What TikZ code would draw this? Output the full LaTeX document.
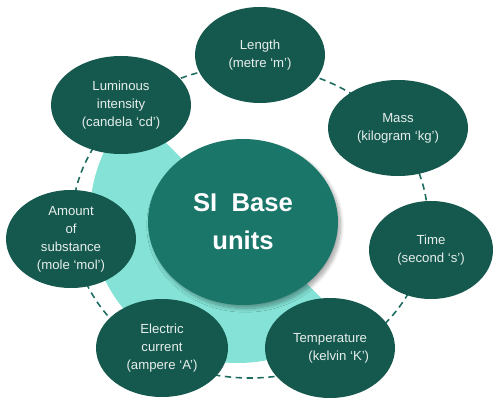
\documentclass[tikz,border=0pt]{standalone}
\usepackage{fontspec}
\setmainfont{Liberation Sans}
\usepackage{tikz}
\usetikzlibrary{shapes.geometric,shadows.blur}

\definecolor{unitdark}{RGB}{21,89,78}
\definecolor{basemid}{RGB}{27,118,106}
\definecolor{halolight}{RGB}{132,227,214}
\definecolor{ringline}{RGB}{30,108,96}
\definecolor{unittext}{RGB}{230,238,236}

\begin{document}
\begin{tikzpicture}
    % Estilos de las elipses
    \tikzset{
        unitblob/.style={
            ellipse, fill=unitdark, inner sep=0pt, align=center, text=unittext,
            font=\fontsize{7.5}{10.2}\selectfont
        },
        baseblob/.style={
            ellipse, fill=basemid, inner sep=0pt, align=center, text=white,
            minimum width=3.8cm, minimum height=3.32cm,
            font=\fontsize{14.6}{21.8}\selectfont\bfseries,
            blur shadow={shadow xshift=0.5mm, shadow yshift=-0.7mm, shadow blur steps=10, shadow opacity=35}
        },
        ringline/.style={
            ellipse, draw=ringline, line width=0.9pt, dash pattern=on 3.6pt off 2.6pt,
            minimum width=7.12cm, minimum height=6.24cm
        }
    }
    \useasboundingbox (0,0) rectangle (10,-8.18);

    % Fondo: semicirculo claro y anillo discontinuo
    \coordinate (hub) at (4.76,-4.30);
    \fill[halolight] (hub) ++(135:2.96) arc[start angle=135, end angle=315, radius=2.96] -- cycle;
    \node[ringline] (ring) at (5.0,-4.44) {};

    % Nodo central
    \node[baseblob] (base) at (4.86,-4.44) {SI\ \ Base\\units};

    % Unidades
    \node[unitblob, minimum width=2.6cm, minimum height=1.92cm] (length) at (5.2,-1.1) {Length\\(metre ‘m’)};
    \node[unitblob, minimum width=2.8cm, minimum height=1.92cm] (mass) at (7.96,-2.56) {Mass\\(kilogram ‘kg’)};
    \node[unitblob, minimum width=2.48cm, minimum height=1.96cm] (time) at (8.62,-5.0) {Time\\(second ‘s’)};
    \node[unitblob, minimum width=2.6cm, minimum height=2.0cm] (temperature) at (6.6,-6.96) {Temperature\\\hspace{0.35cm}(kelvin ‘K’)};
    \node[unitblob, minimum width=2.64cm, minimum height=1.96cm] (current) at (3.24,-6.96) {Electric\\current\\(ampere ‘A’)};
    \node[unitblob, minimum width=2.6cm, minimum height=1.96cm] (amount) at (1.42,-4.78) {Amount\\of\\substance\\(mole ‘mol’)};
    \node[unitblob, minimum width=2.8cm, minimum height=1.96cm] (luminous) at (2.42,-2.1) {Luminous\\intensity\\(candela ‘cd’)};
\end{tikzpicture}
\end{document}
